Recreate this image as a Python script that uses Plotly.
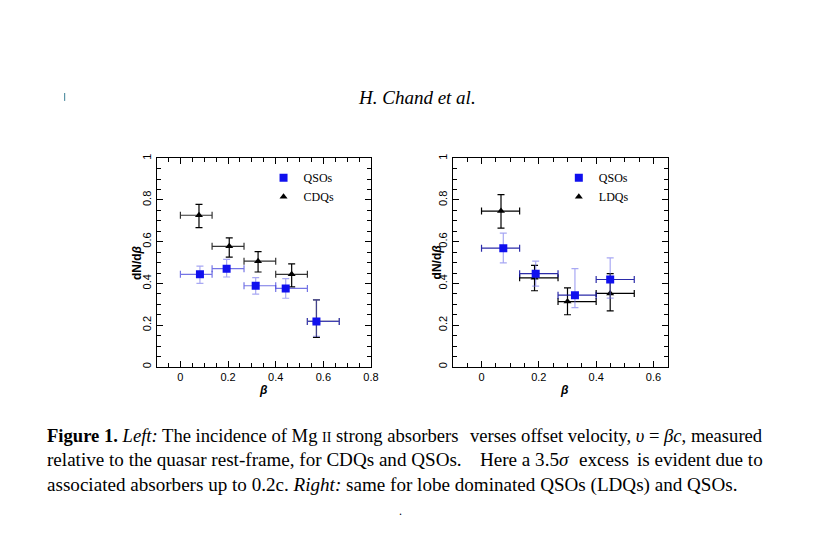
import plotly.graph_objects as go

# full page size; the body margin is removed in the page so paper == page pixels
W, H = 824, 537
# small horizontal correction measured from earlier renders
XS, XB = 0.986, 1.6

# ---------------- data ----------------
bin_lo = [0.0, 0.133, 0.267, 0.4, 0.533]
bin_hi = [0.133, 0.267, 0.4, 0.533, 0.667]

# Left panel: CDQs vs QSOs
cdq_x = [0.078, 0.205, 0.326, 0.467, 0.571]
cdq_y = [0.727, 0.578, 0.507, 0.444, 0.218]
cdq_yhi = [0.779, 0.618, 0.553, 0.494, 0.321]
cdq_ylo = [0.668, 0.526, 0.455, 0.384, 0.142]

qsoL_x = [0.082, 0.194, 0.316, 0.442, 0.571]
qsoL_y = [0.444, 0.471, 0.389, 0.376, 0.218]
qsoL_yhi = [0.483, 0.515, 0.428, 0.423, 0.321]
qsoL_ylo = [0.400, 0.431, 0.349, 0.329, 0.147]

# Right panel: LDQs vs QSOs
ldq_x = [0.068, 0.185, 0.300, 0.449]
ldq_y = [0.747, 0.427, 0.313, 0.352]
ldq_yhi = [0.826, 0.487, 0.379, 0.447]
ldq_ylo = [0.665, 0.365, 0.250, 0.269]

qsoR_x = [0.076, 0.189, 0.326, 0.449]
qsoR_y = [0.569, 0.447, 0.344, 0.419]
qsoR_yhi = [0.641, 0.507, 0.471, 0.523]
qsoR_ylo = [0.499, 0.387, 0.284, 0.330]

x_ticks = [0, 0.2, 0.4, 0.6, 0.8]
y_ticks = [0, 0.2, 0.4, 0.6, 0.8, 1]


def px(v):
    return ((v - XB) / XS) / W


def py(v):
    return 1 - v / H


def errs(x, y, yhi, ylo, n):
    return dict(
        xp=[bin_hi[i] - x[i] for i in range(n)],
        xm=[x[i] - bin_lo[i] for i in range(n)],
        yp=[yhi[i] - y[i] for i in range(n)],
        ym=[y[i] - ylo[i] for i in range(n)],
    )


def add_series(fig, x, y, yhi, ylo, name, symbol, color, ecolor_x, ecolor_y,
               size, xa, ya, legend):
    e = errs(x, y, yhi, ylo, len(x))
    fig.add_trace(go.Scatter(
        x=x, y=y, mode="markers", name=name,
        marker=dict(symbol=symbol, size=size, color=color, line=dict(width=0)),
        error_x=dict(type="data", symmetric=False, array=e["xp"], arrayminus=e["xm"],
                     color=ecolor_x, thickness=1.2, width=3.5),
        error_y=dict(type="data", symmetric=False, array=e["yp"], arrayminus=e["ym"],
                     color=ecolor_y, thickness=1.2, width=3.5),
        xaxis=xa, yaxis=ya, legend=legend,
    ))


fig = go.Figure()

BLUE = "#1010ee"
add_series(fig, cdq_x, cdq_y, cdq_yhi, cdq_ylo, "CDQs", "triangle-up", "black",
           "#333333", "black", 7, "x", "y", "legend")
add_series(fig, qsoL_x, qsoL_y, qsoL_yhi, qsoL_ylo, "QSOs", "square", BLUE,
           "rgba(70,70,220,0.75)", "rgba(110,110,235,0.6)", 8, "x", "y", "legend")
add_series(fig, ldq_x, ldq_y, ldq_yhi, ldq_ylo, "LDQs", "triangle-up", "black",
           "black", "black", 7, "x2", "y2", "legend2")
add_series(fig, qsoR_x, qsoR_y, qsoR_yhi, qsoR_ylo, "QSOs", "square", BLUE,
           "rgba(20,20,160,0.9)", "rgba(110,110,235,0.6)", 8, "x2", "y2", "legend2")

tickfont = dict(family="Liberation Sans", size=11, color="black")


def axis(rng, domain, anchor, tickvals, angle=0):
    return dict(
        range=rng, domain=domain, anchor=anchor,
        tickvals=tickvals, ticktext=[f"{t:g}" for t in tickvals],
        ticks="inside", ticklen=6, tickwidth=1, tickcolor="black",
        showline=True, linecolor="black", linewidth=1.2, mirror="ticks",
        showgrid=False, zeroline=False, tickangle=angle, tickfont=tickfont,
        minor=dict(dtick=0.05, tick0=0, ticks="inside", ticklen=4, tickwidth=1,
                   tickcolor="black", showgrid=False),
        fixedrange=True,
    )


yL_dom = [py(366), py(155)]
leg_font = dict(family="Liberation Serif", size=12, color="black")
fig.update_layout(
    width=W, height=H,
    margin=dict(l=0, r=0, t=0, b=0),
    paper_bgcolor="white", plot_bgcolor="white",
    xaxis=axis([-0.1, 0.8], [px(157.5), px(371)], "y", x_ticks),
    yaxis=axis([0, 1], yL_dom, "x", y_ticks, -90),
    xaxis2=axis([-0.1, 0.65], [px(452.5), px(666.5)], "y2", x_ticks[:4]),
    yaxis2=axis([0, 1], yL_dom, "x2", y_ticks, -90),
    legend=dict(x=px(264), y=py(160), xanchor="left", yanchor="top",
                bgcolor="rgba(0,0,0,0)", traceorder="reversed",
                font=leg_font, tracegroupgap=0),
    legend2=dict(x=px(558), y=py(160), xanchor="left", yanchor="top",
                 bgcolor="rgba(0,0,0,0)", traceorder="reversed",
                 font=leg_font, tracegroupgap=0),
    showlegend=True,
)

ann = []
serif = "Liberation Serif"
# axis titles
for xc in [264, 564]:
    ann.append(dict(x=px(xc), y=py(389), xref="paper", yref="paper",
                    xanchor="center", yanchor="middle",
                    text="<b><i>β</i></b>", showarrow=False,
                    font=dict(family="Liberation Sans", size=12, color="black")))
for xc in [138, 437]:
    ann.append(dict(x=px(xc), y=py(260), xref="paper", yref="paper",
                    xanchor="center", yanchor="middle",
                    text="<b>dN/d<i>β</i></b>", showarrow=False, textangle=-90,
                    font=dict(family="Liberation Sans", size=12, color="black")))
# running header
ann.append(dict(x=px(356), y=py(94), xref="paper", yref="paper",
                xanchor="left", yanchor="middle",
                text="<i>H. Chand et al.</i>", showarrow=False,
                font=dict(family=serif, size=19, color="black")))

# caption: justified lines approximated by pieces placed along each line
cap1 = dict(family=serif, size=18.6, color="black")
cap = dict(family=serif, size=19.1, color="black")
pieces = [
    (435, cap1, 46, "left",
     "<b>Figure 1.</b> <i>Left:</i> The incidence of Mg <span style='font-size:14px'>II</span> strong absorbers"),
    (435, cap1, 763, "right", "verses offset velocity, <i>υ</i> = <i>βc</i>, measured"),
    (460, cap, 46, "left", "relative to the quasar rest-frame, for CDQs and QSOs."),
    (460, cap, 478, "left", "Here a 3.5<i>σ</i>"),
    (460, cap, 576, "left", "excess"),
    (460, cap, 763, "right", "is evident due to"),
    (485, cap, 46, "left",
     "associated absorbers up to 0.2c. <i>Right:</i> same for lobe dominated QSOs (LDQs) and QSOs."),
]
for yy, f, xx, anc, txt in pieces:
    ann.append(dict(x=px(xx), y=py(yy), xref="paper", yref="paper",
                    xanchor=anc, yanchor="middle",
                    text=txt, showarrow=False, font=f))
ann.append(dict(x=px(400), y=py(512), xref="paper", yref="paper",
                xanchor="center", yanchor="middle",
                text=".", showarrow=False, font=dict(family=serif, size=12, color="black")))
fig.update_layout(annotations=ann)

fig.add_shape(type="line", xref="paper", yref="paper",
              x0=px(66), x1=px(66), y0=py(89), y1=py(97),
              line=dict(color="#3a7f95", width=1))

fig.write_html(
    "out.html",
    config={"displayModeBar": False},
    post_script="document.body.style.margin='0';document.body.style.overflow='hidden';",
)
